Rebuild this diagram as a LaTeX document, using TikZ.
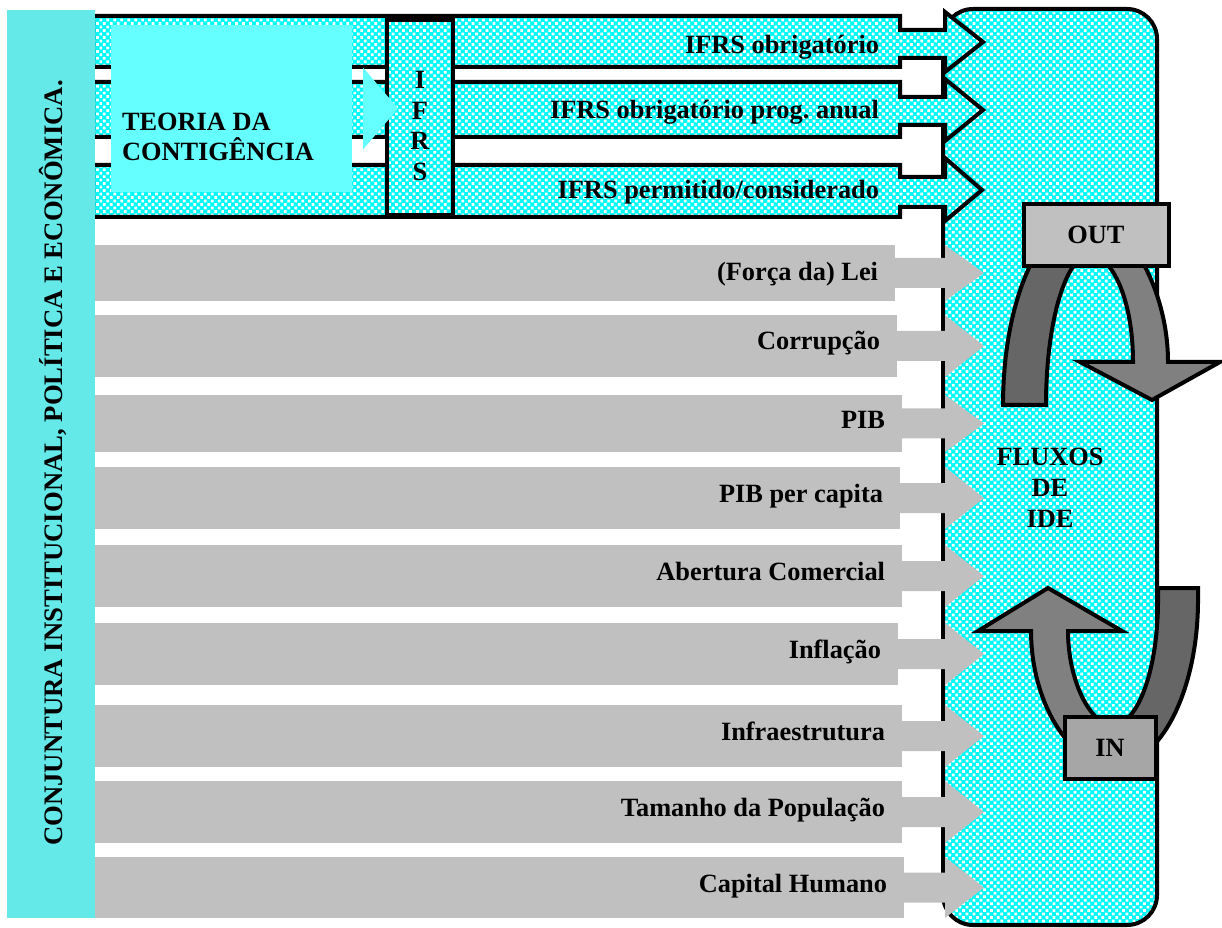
\documentclass[tikz,border=0pt]{standalone}
\usepackage{fontspec}
\setmainfont{Liberation Serif}
\usetikzlibrary{calc,patterns.meta}
\frenchspacing

\definecolor{ciano}{RGB}{102,255,255}
\definecolor{cianobase}{RGB}{0,250,250}
\definecolor{faixa}{RGB}{100,232,232}
\definecolor{cinza}{RGB}{192,192,192}
\definecolor{cinzain}{RGB}{166,166,166}
\definecolor{escuro}{RGB}{102,102,102}
\definecolor{medio}{RGB}{128,128,128}

% seta cinza de um fator ate a caixa de IDE
\newcommand{\setacinza}[1]{%
  \fill[cinza] ($(#1.east)+(-1,-15)$) -- ($(#1.east -| base)+(0,-15)$) -- (#1.north -| base)
    -- (#1.east -| ponta) -- (#1.south -| base) -- ($(#1.east -| base)+(0,15)$)
    -- ($(#1.east)+(-1,15)$) -- cycle;}

\begin{document}
\begin{tikzpicture}[x=0.02cm,y=-0.02cm,every node/.style={outer sep=0pt},
		contorno/.style={draw=black,line width=0.08cm,line join=miter},
		padrao/.style={preaction={fill=cianobase},pattern={Dots[radius=1.1pt,distance=2.8pt,angle=45]},pattern color=white},
		rotulo/.style={font=\fontsize{15}{17.5}\selectfont\bfseries,inner sep=0pt},
		fator/.style={fill=cinza,inner sep=0pt}]
		\def \px {0.02cm}
		\useasboundingbox (0,0) rectangle (1222,928);
		\coordinate (base) at (945,0);
		\coordinate (ponta) at (984,0);
		
		% caixa dos fluxos
		\node[contorno,padrao,rounded corners=0.6cm,minimum width=214*\px,minimum height=916*\px] (ide) at (1050,467) {};
		
		% setas IFRS
		\draw[contorno,padrao] (93,16) -- (900,16) -- (900,30) -- (945,30) -- (945,12) -- (983,42) -- (945,72) -- (945,58) -- (900,58) -- (900,67) -- (93,67) -- cycle;
		\draw[contorno,padrao] (93,82) -- (900,82) -- (900,97) -- (945,97) -- (945,79) -- (983,110) -- (945,141) -- (945,125) -- (900,125) -- (900,137) -- (93,137) -- cycle;
		\draw[contorno,padrao] (93,165) -- (900,165) -- (900,177) -- (945,177) -- (945,158) -- (982,190) -- (945,221) -- (945,207) -- (900,207) -- (900,217) -- (93,217) -- cycle;
		
		\node[contorno,padrao,minimum width=66*\px,minimum height=195*\px] (ifrs) at (420,117.5) {};
		\node[rotulo,align=center] (ifrstxt) at (420,126) {I\\F\\R\\S};
		
		\node[fill=ciano,minimum width=241*\px,minimum height=167*\px] (teoria) at (231.5,108.5) {};
		\fill[ciano] ($(teoria.east)+(11,-41)$) -- ($(teoria.east)+(46,0)$) -- ($(teoria.east)+(11,41)$) -- cycle;
		\node[rotulo,align=left,anchor=west] (teoriatxt) at (122,137) {TEORIA DA\\CONTIGÊNCIA};
		
		\node[rotulo,anchor=base east] (obrig) at (879,54) {IFRS obrigatório};
		\node[rotulo,anchor=base east] (prog) at (879,119) {IFRS obrigatório prog. anual};
		\node[rotulo,anchor=base east] (perm) at (879,199) {IFRS permitido/considerado};
		
		% faixa da conjuntura
		\node[fill=faixa,minimum width=88*\px,minimum height=908*\px] (conj) at (51,464) {};
		\node[rotulo,rotate=90,anchor=base,font=\fontsize{15.2}{17.5}\selectfont\bfseries] (conjtxt) at (62,463) {CONJUNTURA INSTITUCIONAL, POLÍTICA E ECONÔMICA.};
		
		% fatores
		\node[fator,minimum width=800*\px,minimum height=56*\px] (lei) at (495,273) {};
		\node[fator,minimum width=802*\px,minimum height=62*\px] (corr) at (496,346) {};
		\node[fator,minimum width=807*\px,minimum height=57*\px] (pib) at (498.5,423.5) {};
		\node[fator,minimum width=805*\px,minimum height=62*\px] (pibpc) at (497.5,498) {};
		\node[fator,minimum width=807*\px,minimum height=62*\px] (aber) at (498.5,576) {};
		\node[fator,minimum width=803*\px,minimum height=62*\px] (infl) at (496.5,654) {};
		\node[fator,minimum width=807*\px,minimum height=62*\px] (infra) at (498.5,736) {};
		\node[fator,minimum width=807*\px,minimum height=62*\px] (pop) at (498.5,812) {};
		\node[fator,minimum width=809*\px,minimum height=61*\px] (capital) at (499.5,887.5) {};
		
		\setacinza{lei}
		\setacinza{corr}
		\setacinza{pib}
		\setacinza{pibpc}
		\setacinza{aber}
		\setacinza{infl}
		\setacinza{infra}
		\setacinza{pop}
		\setacinza{capital}
		
		\node[rotulo,anchor=base east] at ($(lei.east)+(-17,8)$) {(Força da) Lei};
		\node[rotulo,anchor=base east] at ($(corr.east)+(-17,4)$) {Corrupção};
		\node[rotulo,anchor=base east] at ($(pib.east)+(-17,5)$) {PIB};
		\node[rotulo,anchor=base east] at ($(pibpc.east)+(-17,4)$) {PIB per capita};
		\node[rotulo,anchor=base east] at ($(aber.east)+(-17,4)$) {Abertura Comercial};
		\node[rotulo,anchor=base east] at ($(infl.east)+(-17,4)$) {Inflação};
		\node[rotulo,anchor=base east] at ($(infra.east)+(-17,4)$) {Infraestrutura};
		\node[rotulo,anchor=base east] at ($(pop.east)+(-17,4)$) {Tamanho da População};
		\node[rotulo,anchor=base east] at ($(capital.east)+(-17,5)$) {Capital Humano};
		
		% saida
		\filldraw[contorno,fill=escuro] (1003,405) .. controls (1003,301) and (1040,217) .. (1085,217) -- (1090,255) .. controls (1066,255) and (1046,322) .. (1046,405) -- cycle;
		\filldraw[contorno,fill=medio] (1085,217) .. controls (1128,217) and (1168,290) .. (1168,362) -- (1220,362) -- (1152,400) -- (1080,362) -- (1133,362) .. controls (1133,300) and (1112,255) .. (1090,255) -- cycle;
		\node[contorno,fill=cinza,rotulo,minimum width=145*\px,minimum height=62*\px] (out) at (1096,235) {OUT};
		
		% entrada
		\filldraw[contorno,fill=escuro] (1198,588) -- (1198,600) .. controls (1198,691) and (1160,765) .. (1114,765) -- (1113,725) .. controls (1138,725) and (1158,669) .. (1158,600) -- (1158,588) -- cycle;
		\filldraw[contorno,fill=medio] (1114,765) .. controls (1068,765) and (1031,700) .. (1031,631) -- (978,631) -- (1048,588) -- (1122,631) -- (1068,631) .. controls (1068,680) and (1090,725) .. (1113,725) -- cycle;
		\node[contorno,fill=cinzain,rotulo,minimum width=91*\px,minimum height=62*\px] (in) at (1110,747.5) {IN};
		
		\node[rotulo,align=center] (fluxos) at (1050,488) {FLUXOS\\DE\\IDE};
		\end{tikzpicture}
\end{document}
